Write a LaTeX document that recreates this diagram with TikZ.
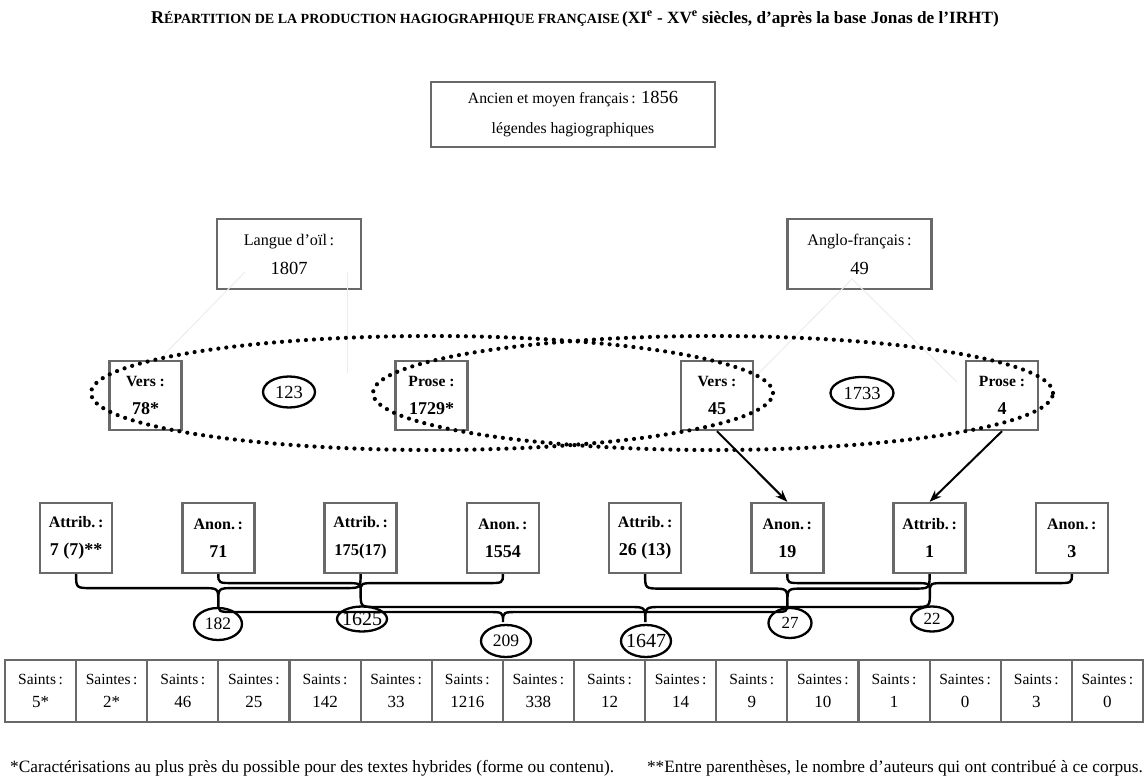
\documentclass[tikz,border=0pt]{standalone}
\usepackage{fontspec}
\setmainfont{Liberation Serif}
\usetikzlibrary{arrows.meta,shapes.geometric,calc}
\definecolor{bxg}{RGB}{105,105,105}
\definecolor{faint}{RGB}{236,236,236}
\newcommand{\hbrace}[3]{%
  \path ($(#1)!0.5!(#3)$) coordinate (hm);
  \draw[bracel] (#1) .. controls (#1 |- hm) .. ($(#1 |- hm)+(16,0)$) -- ($(#3 |- hm)+(-16,0)$) .. controls (#3 |- hm) .. (#3) .. controls (#3 |- hm) .. ($(#3 |- hm)+(16,0)$) -- ($(#2 |- hm)+(-16,0)$) .. controls (#2 |- hm) .. (#2);}
\newcommand{\vl}[1]{{\fontsize{18}{28}\selectfont #1}}
\newcommand{\ef}[2]{\makebox[0pt]{\fontsize{#1}{#1}\selectfont #2}}
\begin{document}
\begin{tikzpicture}[x=1pt,y=-1pt,
  bx/.style={draw=bxg, line width=2.4pt, inner sep=0pt, align=center},
  topbox/.style={bx, minimum width=284pt, minimum height=65pt, font=\fontsize{15.7}{30}\selectfont},
  lvlone/.style={bx, minimum width=144pt, minimum height=70pt, font=\fontsize{16.2}{29}\selectfont},
  lvltwo/.style={bx, minimum width=72pt, minimum height=69pt, font=\bfseries\fontsize{15.6}{28}\selectfont},
  lvlthree/.style={bx, minimum width=72pt, minimum height=70pt, font=\bfseries\fontsize{16}{28}\selectfont},
  cell/.style={bx, line width=2.2pt, minimum width=71.125pt, minimum height=62pt, font=\fontsize{15.5}{23}\selectfont},
  ell/.style={draw, ellipse, line width=2.3pt, inner sep=0pt},
  bracel/.style={line width=2.4pt},
  arr/.style={-{Stealth[length=12pt,width=9pt]}, line width=2pt},
  dotl/.style={line width=4.2pt, line cap=round, dash pattern=on 0pt off 8pt},
  fnt/.style={draw=faint, line width=1pt},
  note/.style={inner sep=0pt, font=\fontsize{17.3}{17}\selectfont}
]
\useasboundingbox (0,0) rectangle (1148,783);

% title
\node[inner sep=0pt] (title) at (575,19) {\bfseries{\fontsize{18}{18}\selectfont R}{\fontsize{14}{15}\selectfont ÉPARTITION DE LA PRODUCTION HAGIOGRAPHIQUE FRANÇAISE} {\fontsize{17.2}{15}\selectfont (XI\textsuperscript{e} - XV\textsuperscript{e} siècles, d’après la base Jonas de l’IRHT)}};

% top box
\node[topbox] (top) at (573,114.5) {Ancien et moyen français\,: {\fontsize{18.5}{18}\selectfont 1856}\\légendes hagiographiques};

% level one
\node[lvlone] (lang) at (289,254) {Langue d’oïl\,:\\{\fontsize{18.5}{29}\selectfont 1807}};
\node[lvlone] (anglo) at (859.5,254) {Anglo-français\,:\\{\fontsize{18.5}{29}\selectfont 49}};

% faint traces
\coordinate (fl1) at (245,272); \coordinate (fl2) at (347,272);
\coordinate (fl3) at (157,362); \coordinate (fl4) at (347,373);
\coordinate (fa1) at (852,279); \coordinate (fa2) at (754,378); \coordinate (fa3) at (957,382);
\draw[fnt] (fl1) -- (fl3);
\draw[fnt] (fl2) -- (fl4);
\draw[fnt] (fa1) -- (fa2);
\draw[fnt] (fa1) -- (fa3);

% level two
\node[lvltwo] (v78) at (145.5,395.5) {Vers :\\\vl{78*}};
\node[lvltwo] (p1729) at (431.5,395.5) {Prose :\\\vl{1729*}};
\node[lvltwo] (v45) at (717,395.5) {Vers :\\\vl{45}};
\node[lvltwo] (p4) at (1002,395.5) {Prose :\\\vl{4}};

\node[ell, minimum width=52pt, minimum height=31pt] (e123) at (289,392) {\ef{18.5}{123}};
\node[ell, minimum width=63pt, minimum height=32pt] (e1733) at (862,393) {\ef{18.5}{1733}};

% dotted ellipses
\draw[dotl] (432,393) ellipse [x radius=341pt, y radius=57pt];
\draw[dotl] (713,393) ellipse [x radius=340pt, y radius=57pt];

% level three
\foreach \t/\v [count=\i] in {Attrib./7 (7)**, Anon./71, Attrib./{\fontsize{16.5}{28}\selectfont 175(17)}, Anon./1554, Attrib./26 (13), Anon./19, Attrib./1, Anon./3} {
  \pgfmathsetmacro\xx{76.1+142.25*(\i-1)}
  \node[lvlthree] (a\i) at (\xx,538) {\t\,:\\\vl{\v}};
}

% arrows
\draw[arr] (v45.south) -- (a6.north);
\draw[arr] (p4.south) -- (a7.north);

% tips of braces
\coordinate (t182) at (218.3,602);
\coordinate (t1625) at (360.6,592);
\coordinate (t27) at (787.4,603);
\coordinate (t22) at (929.9,592);
\coordinate (t209) at (503,622);
\coordinate (t1647) at (645.3,622);

\hbrace{a1.south}{a3.south}{t182}
\hbrace{a2.south}{a4.south}{t1625}
\hbrace{a5.south}{a7.south}{t27}
\hbrace{a6.south}{a8.south}{t22}
\hbrace{t182}{t27}{t209}
\hbrace{t1625}{t22}{t1647}

% sum ellipses
\node[ell, minimum width=48pt, minimum height=32pt] (e182) at (218,624) {\ef{17.5}{182}};
\node[ell, minimum width=50pt, minimum height=25pt] (e1625) at (362,619) {\ef{20}{1625}};
\node[ell, minimum width=50pt, minimum height=32pt] (e209) at (506,641) {\ef{17.5}{209}};
\node[ell, minimum width=50pt, minimum height=32pt] (e1647) at (646,641) {\ef{20}{1647}};
\node[ell, minimum width=43pt, minimum height=30pt] (e27) at (790,623) {\ef{17}{27}};
\node[ell, minimum width=42pt, minimum height=25pt] (e22) at (932,619) {\ef{17}{22}};

% bottom row
\foreach \v [count=\i] in {5*,2*,46,25,142,33,1216,338,12,14,9,10,1,0,3,0} {
  \pgfmathsetmacro\xx{5+71.125*(\i-0.5)}
  \pgfmathtruncatemacro\odd{mod(\i,2)}
  \ifnum\odd=1 \def\lab{Saints\,:}\else\def\lab{Saintes\,:}\fi
  \node[cell] (s\i) at (\xx,691) {\lab\\{\fontsize{17}{23}\selectfont\v}};
}

% footnotes
\node[note, anchor=west] (n1) at (10,768) {*Caractérisations au plus près du possible pour des textes hybrides (forme ou contenu).};
\node[note, anchor=east] (n2) at (1143,768) {**Entre parenthèses, le nombre d’auteurs qui ont contribué à ce corpus.};
\end{tikzpicture}
\end{document}
